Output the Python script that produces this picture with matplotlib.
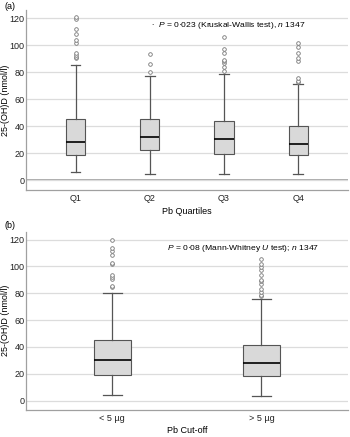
import matplotlib
matplotlib.use("Agg")
import matplotlib.pyplot as plt

plt.rcParams['font.family'] = ['Liberation Sans', 'DejaVu Sans']
plt.rcParams['mathtext.fontset'] = 'custom'
plt.rcParams['mathtext.rm'] = 'Liberation Sans'
plt.rcParams['mathtext.it'] = 'Liberation Sans:italic'

# Panel (a): Pb quartiles
quartile_labels = ["Q1", "Q2", "Q3", "Q4"]
q_whislo = [5.7, 4.7, 4.7, 4.2]
q_q1 = [18.8, 22.5, 19.5, 18.3]
q_med = [28.1, 32.3, 30.1, 26.9]
q_q3 = [45.5, 45.2, 44.0, 39.8]
q_whishi = [85.2, 77.3, 78.3, 71.2]
q_fliers = [
    [90.5, 91.5, 92.5, 94.5, 101.5, 103.5, 108.5, 112.0, 119.5, 120.5],
    [80.2, 86.0, 93.6],
    [81.2, 84.0, 86.9, 88.1, 89.0, 94.3, 97.5, 105.7],
    [72.5, 73.5, 76.0, 88.6, 90.4, 94.3, 98.5, 101.7],
]

# Panel (b): Pb cut-off
cut_labels = ["< 5 \u00b5g", "> 5 \u00b5g"]
c_whislo = [4.3, 3.5]
c_q1 = [19.4, 18.4]
c_med = [30.1, 27.8]
c_q3 = [45.2, 41.4]
c_whishi = [80.2, 75.8]
c_fliers = [
    [85.0, 85.5, 90.7, 91.9, 93.4, 101.9, 102.8, 108.3, 111.8, 113.8, 120.0],
    [77.8, 78.8, 81.2, 83.2, 87.2, 88.9, 89.9, 93.9, 97.6, 99.6, 101.9, 105.6],
]

box_face = "#d9d9d9"
box_edge = "#555555"
grid_col = "#dcdcdc"
spine_col = "#a0a0a0"
fs = 6.5
fs_note = 6.1


def make_stats(labels, lo, q1, med, q3, hi, fl):
    return [dict(label=l, whislo=a, q1=b, med=c, q3=d, whishi=e, fliers=f)
            for l, a, b, c, d, e, f in zip(labels, lo, q1, med, q3, hi, fl)]


def draw(ax, stats, width, zero_line):
    n = len(stats)
    pos = list(range(1, n + 1))
    ax.bxp(stats, positions=pos, widths=width, capwidths=width * 0.5,
           patch_artist=True,
           boxprops=dict(facecolor=box_face, edgecolor=box_edge, linewidth=0.8),
           medianprops=dict(color="black", linewidth=1.2),
           whiskerprops=dict(color=box_edge, linewidth=0.9),
           capprops=dict(color=box_edge, linewidth=0.9),
           flierprops=dict(marker='o', markersize=2.6, markerfacecolor='white',
                           markeredgecolor='#777777', markeredgewidth=0.6))
    ax.set_yticks([0, 20, 40, 60, 80, 100, 120])
    ax.yaxis.grid(True, color=grid_col, linewidth=0.9)
    ax.set_axisbelow(True)
    if zero_line:
        ax.axhline(0, color="#a8a8a8", linewidth=1.4, zorder=0.5)
    for s in ["top", "right"]:
        ax.spines[s].set_visible(False)
    for s in ["left", "bottom"]:
        ax.spines[s].set_color(spine_col)
        ax.spines[s].set_linewidth(0.9)
    ax.tick_params(axis='x', length=0, labelsize=fs, colors="#222222", pad=3)
    ax.tick_params(axis='y', length=0, labelsize=fs, colors="#222222", pad=1)
    ax.set_ylabel("25-(OH)D (nmol/l)", fontsize=fs)
    ax.yaxis.set_label_coords(-0.05, 0.5)


fig = plt.figure(figsize=(3.5, 4.37), dpi=100)

ax1 = fig.add_axes([0.074, 0.565, 0.92, 0.412])
draw(ax1, make_stats(quartile_labels, q_whislo, q_q1, q_med, q_q3, q_whishi, q_fliers),
     0.26, True)
ax1.set_xlim(0.33, 4.67)
ax1.set_ylim(-7.4, 126)
ax1.set_xlabel("Pb Quartiles", fontsize=fs, labelpad=3)
ax1.text(0.39, 0.915, r"$\bullet$  $P$ = 0·023 (Kruskal-Wallis test), $n$ 1347",
         transform=ax1.transAxes, fontsize=fs_note, va="center")
fig.text(0.012, 0.985, "(a)", fontsize=fs, va="center")

ax2 = fig.add_axes([0.074, 0.062, 0.92, 0.408])
draw(ax2, make_stats(cut_labels, c_whislo, c_q1, c_med, c_q3, c_whishi, c_fliers),
     0.25, False)
ax2.set_xlim(0.42, 2.58)
ax2.set_ylim(-7, 126)
ax2.set_xlabel("Pb Cut-off", fontsize=fs, labelpad=2)
ax2.text(0.438, 0.908, r"$P$ = 0·08 (Mann-Whitney $U$ test); $n$ 1347",
         transform=ax2.transAxes, fontsize=fs_note, va="center")
fig.text(0.012, 0.485, "(b)", fontsize=fs, va="center")

fig.savefig("out.png", dpi=100, facecolor="white")
